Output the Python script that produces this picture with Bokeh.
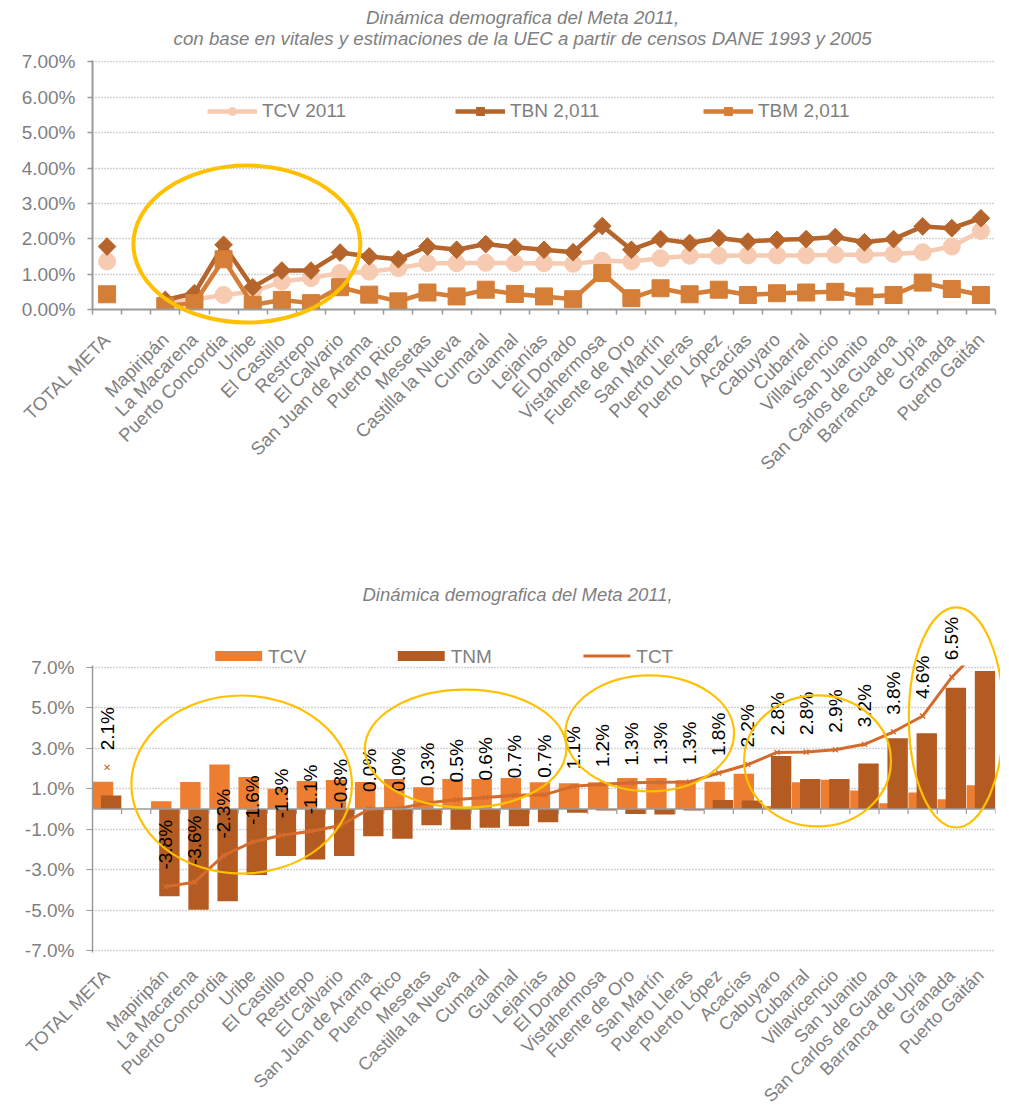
import math
import numpy as np
from bokeh.plotting import figure
from bokeh.layouts import column
from bokeh.models import (Range1d, FixedTicker, PrintfTickFormatter, ColumnDataSource,
                          Legend, LegendItem, Span)
from bokeh.embed import file_html
from bokeh.resources import INLINE
from bokeh.core.properties import value

# ---------------- data ----------------
CATEGORIES = ["TOTAL META", "", "Mapiripán", "La Macarena", "Puerto Concordia", "Uribe",
              "El Castillo", "Restrepo", "El Calvario", "San Juan de Arama", "Puerto Rico",
              "Mesetas", "Castilla la Nueva", "Cumaral", "Guamal", "Lejanías", "El Dorado",
              "Vistahermosa", "Fuente de Oro", "San Martín", "Puerto Lleras", "Puerto López",
              "Acacías", "Cabuyaro", "Cubarral", "Villavicencio", "San Juanito",
              "San Carlos de Guaroa", "Barranca de Upía", "Granada", "Puerto Gaitán"]

# top chart (%)
TCV_2011 = [1.36, None, 0.18, 0.28, 0.41, 0.50, 0.79, 0.89, 1.03, 1.07, 1.17, 1.31, 1.31,
            1.32, 1.31, 1.31, 1.29, 1.38, 1.36, 1.45, 1.52, 1.52, 1.53, 1.53, 1.53, 1.55,
            1.55, 1.57, 1.62, 1.78, 2.22]
TBN_2011 = [1.78, None, 0.27, 0.46, 1.83, 0.63, 1.10, 1.10, 1.61, 1.50, 1.42, 1.78, 1.69,
            1.85, 1.76, 1.69, 1.62, 2.36, 1.69, 1.99, 1.88, 2.02, 1.92, 1.97, 1.99, 2.05,
            1.90, 1.99, 2.35, 2.30, 2.58]
TBM_2011 = [0.43, None, 0.10, 0.18, 1.42, 0.13, 0.27, 0.18, 0.63, 0.42, 0.23, 0.48, 0.37,
            0.56, 0.44, 0.37, 0.29, 1.03, 0.32, 0.60, 0.43, 0.56, 0.41, 0.46, 0.48, 0.50,
            0.37, 0.41, 0.76, 0.58, 0.41]

# bottom chart (%)
TCV = [1.35, None, 0.38, 1.33, 2.20, 1.58, 1.00, 1.38, 1.43, 1.33, 1.48, 1.08, 1.48, 1.48,
       1.53, 1.32, 1.28, 1.32, 1.53, 1.53, 1.42, 1.35, 1.75, 0.15, 1.32, 1.45, 0.92, 0.28,
       0.82, 0.48, 1.17]
TNM = [0.67, None, -4.32, -4.98, -4.57, -3.27, -2.32, -2.50, -2.33, -1.35, -1.47, -0.80,
       -1.03, -0.93, -0.85, -0.65, -0.18, -0.08, -0.25, -0.27, -0.08, 0.45, 0.42, 2.62,
       1.48, 1.48, 2.25, 3.50, 3.75, 6.00, 6.83]
TCT = [2.06, None, -3.84, -3.62, -2.30, -1.63, -1.30, -1.10, -0.82, 0.00, 0.02, 0.30, 0.47,
       0.57, 0.68, 0.70, 1.12, 1.22, 1.30, 1.32, 1.34, 1.78, 2.20, 2.80, 2.82, 2.93, 3.20,
       3.82, 4.60, 6.52, 8.00]

TITLE_TOP = ["Dinámica demografica del Meta 2011,",
             "con base en vitales y estimaciones de la UEC a partir de censos DANE 1993 y 2005"]
TITLE_BOTTOM = "Dinámica demografica del Meta 2011,"
LEGEND_BOTTOM = ["TCV", "TNM", "TCT"]

# highlight ellipses (x in category units, y in %)
ELLIPSES_TOP = [dict(x=5.30, y=1.85, w=7.79, h=4.44)]
ELLIPSES_BOTTOM = [dict(x=5.12, y=1.21, w=7.57, h=8.81),
                   dict(x=12.81, y=2.99, w=6.92, h=5.84),
                   dict(x=19.13, y=3.74, w=5.79, h=5.74),
                   dict(x=24.89, y=2.38, w=5.04, h=6.48),
                   dict(x=29.65, y=4.53, w=3.25, h=10.89)]

# ---------------- style ----------------
FONT = "Liberation Sans"
GREY = "#7F7F7F"
AXIS = "#9A9A9A"
GRID = "#A6A6A6"
YELLOW = "#FFC000"
C_TCV_L = "#F7CBB1"
C_TBN = "#B5652B"
C_TBM = "#D47E37"
C_BAR_TCV = "#ED7D31"
C_BAR_TNM = "#B45B22"
C_TCT = "#D46B2C"

N = len(CATEGORIES)
xs = np.arange(N) + 0.5


def arr(a):
    return np.array([np.nan if v is None else v for v in a], dtype=float)


def style_common(p):
    p.outline_line_color = None
    p.background_fill_color = "white"
    p.border_fill_color = "white"
    p.xgrid.visible = False
    p.ygrid.grid_line_color = GRID
    p.ygrid.grid_line_dash = "1 2"
    p.ygrid.grid_line_width = 1.3
    p.yaxis.major_label_text_font = FONT
    p.yaxis.major_label_text_font_size = "19px"
    p.yaxis.major_label_text_color = GREY
    p.yaxis.minor_tick_line_color = None
    p.yaxis.major_tick_in = 0


# ================= TOP CHART =================
P1_W, P1_H = 1000, 527
P1_TOP, P1_BOTTOM, P1_LEFT, P1_RIGHT = 60, 309, 88, 5
Y1_MAX = 7.04
p1 = figure(width=P1_W, height=P1_H, x_range=Range1d(0, N), y_range=Range1d(0, Y1_MAX),
            output_backend="svg", toolbar_location=None,
            min_border_left=P1_LEFT, min_border_right=P1_RIGHT, min_border_top=P1_TOP,
            min_border_bottom=P1_H - P1_BOTTOM)
style_common(p1)
p1.ygrid.ticker = FixedTicker(ticks=[1, 2, 3, 4, 5, 6, 7])
p1.yaxis.ticker = FixedTicker(ticks=[0, 1, 2, 3, 4, 5, 6, 7])
p1.yaxis.formatter = PrintfTickFormatter(format="%.2f%%")
p1.yaxis.axis_line_color = AXIS
p1.yaxis.axis_line_width = 2
p1.yaxis.major_tick_line_color = AXIS
p1.yaxis.major_tick_line_width = 1.5
p1.yaxis.major_tick_out = 5
p1.yaxis.major_label_standoff = 12

p1.xaxis.ticker = FixedTicker(ticks=list(range(N + 1)))
p1.xaxis.major_label_overrides = {k: "" for k in range(N + 1)}
p1.xaxis.axis_line_color = AXIS
p1.xaxis.axis_line_width = 2
p1.xaxis.major_tick_line_color = AXIS
p1.xaxis.major_tick_line_width = 1.5
p1.xaxis.major_tick_out = 5
p1.xaxis.major_tick_in = 0
p1.xaxis.minor_tick_line_color = None

px1x = (P1_W - P1_LEFT - P1_RIGHT) / N
px1y = (P1_BOTTOM - P1_TOP) / Y1_MAX

src1 = ColumnDataSource(dict(x=xs, tcv=arr(TCV_2011), tbn=arr(TBN_2011), tbm=arr(TBM_2011)))
r_tcv_l = p1.line("x", "tcv", source=src1, line_color=C_TCV_L, line_width=4.5)
r_tcv_m = p1.scatter("x", "tcv", source=src1, marker="circle", size=17,
                     fill_color=C_TCV_L, line_color=C_TCV_L)
r_tbn_l = p1.line("x", "tbn", source=src1, line_color=C_TBN, line_width=4.5)
r_tbn_m = p1.scatter("x", "tbn", source=src1, marker="square", angle=math.pi / 4, size=12.5,
                     fill_color=C_TBN, line_color=C_TBN)
r_tbm_l = p1.line("x", "tbm", source=src1, line_color=C_TBM, line_width=4.5)
r_tbm_m = p1.scatter("x", "tbm", source=src1, marker="square", size=17,
                     fill_color=C_TBM, line_color=C_TBM)

leg1 = Legend(items=[LegendItem(label="TCV 2011", renderers=[r_tcv_l, r_tcv_m]),
                     LegendItem(label="TBN 2,011", renderers=[r_tbn_l, r_tbn_m]),
                     LegendItem(label="TBM 2,011", renderers=[r_tbm_l, r_tbm_m])],
              orientation="horizontal", location=(115, 187),
              glyph_width=50, glyph_height=20, label_standoff=5, label_width=190, spacing=3,
              padding=0, margin=0, border_line_color=None, background_fill_alpha=0,
              label_text_font=FONT, label_text_font_size="19px", label_text_color=GREY)
p1.add_layout(leg1)

cat_src1 = ColumnDataSource(dict(x=xs, y=np.zeros(N), text=CATEGORIES))
p1.text("x", "y", text="text", source=cat_src1, angle=math.pi / 4, text_align="right",
        text_baseline="middle", y_offset=27, text_font=value(FONT), text_font_size="18.5px",
        text_color=GREY, level="overlay")

for e in ELLIPSES_TOP:
    p1.ellipse(x=[e["x"]], y=[e["y"]], width=[e["w"]], height=[e["h"]], fill_color=None,
               line_color=YELLOW, line_width=4, level="overlay")

# titles (centre x ~ 432 px right of the frame's left edge, lines 292 / 271 px above x axis)
p1.text(x=[432 / px1x, 432 / px1x], y=[292 / px1y, 271 / px1y], text=TITLE_TOP,
        text_align="center", text_baseline="middle", text_font=value(FONT),
        text_font_size="18.7px", text_font_style="italic", text_color=GREY, level="overlay")

# ================= BOTTOM CHART =================
P2_W, P2_H = 1000, 579
P2_TOP, P2_BOTTOM, P2_LEFT, P2_RIGHT = 138, 425, 92, 3
Y2_MIN, Y2_MAX = -7.1, 7.1
p2 = figure(width=P2_W, height=P2_H, x_range=Range1d(0, N), y_range=Range1d(Y2_MIN, Y2_MAX),
            output_backend="svg", toolbar_location=None,
            min_border_left=P2_LEFT, min_border_right=P2_RIGHT, min_border_top=P2_TOP,
            min_border_bottom=P2_H - P2_BOTTOM)
style_common(p2)
odd = [-7, -5, -3, -1, 1, 3, 5, 7]
p2.ygrid.ticker = FixedTicker(ticks=odd)
p2.yaxis.ticker = FixedTicker(ticks=odd)
p2.yaxis.formatter = PrintfTickFormatter(format="%.1f%%")
p2.yaxis.axis_line_color = AXIS
p2.yaxis.axis_line_width = 1.5
p2.yaxis.major_tick_line_color = AXIS
p2.yaxis.major_tick_line_width = 1.2
p2.yaxis.major_tick_out = 6
p2.yaxis.major_label_standoff = 12
p2.xaxis.visible = False

px2x = (P2_W - P2_LEFT - P2_RIGHT) / N
px2y = (P2_BOTTOM - P2_TOP) / (Y2_MAX - Y2_MIN)

bsrc = ColumnDataSource(dict(x_tcv=xs - 0.14, x_tnm=xs + 0.14, tcv=arr(TCV), tnm=arr(TNM)))
r_bar_tcv = p2.vbar(x="x_tcv", top="tcv", bottom=0, width=0.70, source=bsrc,
                    fill_color=C_BAR_TCV, line_color=None)
r_bar_tnm = p2.vbar(x="x_tnm", top="tnm", bottom=0, width=0.70, source=bsrc,
                    fill_color=C_BAR_TNM, line_color=None)

p2.add_layout(Span(location=0, dimension="width", line_color=AXIS, line_width=1.5))
p2.segment(x0=list(range(N + 1)), x1=list(range(N + 1)), y0=0, y1=-5 / px2y,
           line_color=AXIS, line_width=1.2)

tct = arr(TCT)
tsrc = ColumnDataSource(dict(x=xs, y=tct))
r_tct_l = p2.line("x", "y", source=tsrc, line_color=C_TCT, line_width=3)
r_tct_m = p2.scatter("x", "y", source=tsrc, marker="x", size=7, line_color=C_TCT, line_width=1.3)

mask = (~np.isnan(tct)) & (tct <= 7)
p2.text(x=xs[mask], y=tct[mask], text=[f"{v:.1f}%" for v in tct[mask]], angle=math.pi / 2,
        text_align="left", text_baseline="middle", y_offset=-17, text_font=value(FONT),
        text_font_size="19px", text_color="black", level="overlay")

cat_src2 = ColumnDataSource(dict(x=xs, y=np.full(N, -7.0), text=CATEGORIES))
p2.text("x", "y", text="text", source=cat_src2, angle=math.pi / 4, text_align="right",
        text_baseline="middle", y_offset=22, text_font=value(FONT), text_font_size="18px",
        text_color=GREY, level="overlay")

# legend of the bottom chart sits above the plot area (drawn as overlay glyphs so it is
# not clipped): items start 123 / 306 / 492 px right of the frame's left edge,
# row centre ~153 px above the zero line
leg_x0 = np.array([123, 306, 492]) / px2x
leg_gw = 47 / px2x
leg_y = 153 / px2y
p2.rect(x=leg_x0[:2] + leg_gw / 2, y=[leg_y, leg_y], width=leg_gw, height=10 / px2y,
        fill_color=[C_BAR_TCV, C_BAR_TNM], line_color=None, level="overlay")
p2.line(x=[leg_x0[2], leg_x0[2] + leg_gw], y=[leg_y, leg_y], line_color=C_TCT, line_width=3,
        level="overlay")
p2.scatter(x=[leg_x0[2] + leg_gw / 2], y=[leg_y], marker="x", size=7, line_color=C_TCT,
           line_width=1.3, level="overlay")
p2.text(x=leg_x0 + 53 / px2x, y=[leg_y] * 3, text=LEGEND_BOTTOM, text_align="left",
        text_baseline="middle", text_font=value(FONT), text_font_size="19px",
        text_color=GREY, level="overlay")

for e in ELLIPSES_BOTTOM:
    p2.ellipse(x=[e["x"]], y=[e["y"]], width=[e["w"]], height=[e["h"]], fill_color=None,
               line_color=YELLOW, line_width=2.2, level="overlay")

# title (centre x ~ 426 px right of the frame's left edge, ~215 px above the zero line)
p2.text(x=[426 / px2x], y=[215 / px2y], text=[TITLE_BOTTOM], text_align="center",
        text_baseline="middle", text_font=value(FONT), text_font_size="18.5px",
        text_font_style="italic", text_color=GREY, level="overlay")

layout = column(p1, p2)
open("out.html", "w").write(file_html(layout, INLINE))
